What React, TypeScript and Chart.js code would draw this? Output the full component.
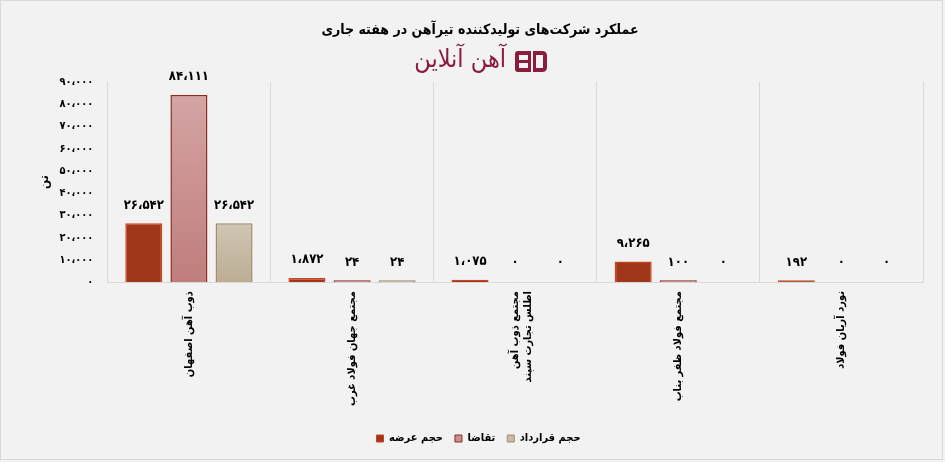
import React, { useEffect, useRef } from "react";
import { Chart, registerables } from "chart.js";

Chart.register(...registerables);

const categories: string[][] = [
  ["ذوب آهن اصفهان"],
  ["مجتمع جهان فولاد غرب"],
  ["مجتمع ذوب آهن", "اطلس تجارت سپند"],
  ["مجتمع فولاد ظفر بناب"],
  ["نورد آریان فولاد"],
];
const supplyValues = [26542, 1872, 1075, 9265, 192];
const demandValues = [84111, 24, 0, 100, 0];
const contractValues = [26542, 24, 0, 0, 0];
const seriesNames = ["حجم عرضه", "تقاضا", "حجم قرارداد"];
const titleText = "عملکرد شرکت‌های تولیدکننده تیرآهن در هفته جاری";
const logoText = "آهن آنلاین";
const yTitle = "تن";

const FONT = "'DejaVu Sans Condensed', 'DejaVu Sans', sans-serif";

const fa = (n: number) =>
  Math.round(n)
    .toLocaleString("en-US")
    .replace(/\d/g, (d) => "۰۱۲۳۴۵۶۷۸۹"[+d])
    .replace(/,/g, "،");

function gradientFill(top: string, bottom: string) {
  return (ctx: any) => {
    if (ctx.raw === 0) return "rgba(0,0,0,0)";
    const chart = ctx.chart;
    const y = chart.scales?.y;
    if (!y || ctx.raw === undefined) return top;
    const y0 = y.getPixelForValue(ctx.raw);
    const y1 = y.getPixelForValue(0);
    if (!isFinite(y0) || !isFinite(y1) || Math.abs(y1 - y0) < 3) return bottom;
    const g = chart.ctx.createLinearGradient(0, y0, 0, y1);
    g.addColorStop(0, top);
    g.addColorStop(1, bottom);
    return g;
  };
}
const solid = (c: string) => (ctx: any) => (ctx.raw === 0 ? "rgba(0,0,0,0)" : c);

const decorPlugin = {
  id: "decor",
  beforeDraw(chart: any) {
    const { ctx, width, height } = chart;
    ctx.save();
    ctx.fillStyle = "#f2f2f2";
    ctx.fillRect(0, 0, width, height);
    ctx.strokeStyle = "#d9d9d9";
    ctx.lineWidth = 1;
    ctx.strokeRect(0.5, 0.5, width - 3, height - 3);
    // title
    ctx.fillStyle = "#000";
    ctx.font = `bold 14px ${FONT}`;
    ctx.textAlign = "center";
    ctx.textBaseline = "middle";
    ctx.direction = "rtl";
    ctx.fillText(titleText, 480, 30);
    // logo text
    ctx.fillStyle = "#8c1c3c";
    ctx.font = `25px ${FONT}`;
    ctx.textAlign = "right";
    ctx.fillText(logoText, 506, 60);
    // logo mark
    const x = 515, yy = 51, h = 21;
    ctx.fillStyle = "#8c1c3c";
    ctx.beginPath();
    ctx.moveTo(x + 3, yy);
    ctx.lineTo(x + 16, yy);
    ctx.lineTo(x + 16, yy + h);
    ctx.lineTo(x + 3, yy + h);
    ctx.quadraticCurveTo(x, yy + h, x, yy + h - 3);
    ctx.lineTo(x, yy + 3);
    ctx.quadraticCurveTo(x, yy, x + 3, yy);
    ctx.fill();
    ctx.beginPath();
    ctx.moveTo(x + 18, yy);
    ctx.lineTo(x + 27, yy);
    ctx.quadraticCurveTo(x + 32, yy, x + 32, yy + 5);
    ctx.lineTo(x + 32, yy + h - 5);
    ctx.quadraticCurveTo(x + 32, yy + h, x + 27, yy + h);
    ctx.lineTo(x + 18, yy + h);
    ctx.fill();
    ctx.fillStyle = "#f2f2f2";
    ctx.fillRect(x + 4, yy + 4, 9, 5);
    ctx.fillRect(x + 4, yy + 12, 9, 5);
    ctx.fillRect(x + 21, yy + 4, 7, 13);
    ctx.restore();
  },
  afterDatasetsDraw(chart: any) {
    const { ctx } = chart;
    const yScale = chart.scales.y;
    ctx.save();
    ctx.fillStyle = "#000";
    ctx.font = `bold 13px ${FONT}`;
    ctx.textAlign = "center";
    ctx.textBaseline = "middle";
    chart.data.datasets.forEach((ds: any, i: number) => {
      const meta = chart.getDatasetMeta(i);
      meta.data.forEach((el: any, j: number) => {
        const v = ds.data[j];
        const top = Math.min(el.y, yScale.getPixelForValue(v));
        ctx.fillText(fa(v), el.x, top - 18);
      });
    });
    ctx.restore();
  },
};

export default function App() {
  const ref = useRef<HTMLCanvasElement>(null);
  useEffect(() => {
    document.body.style.margin = "0";
    const chart = new Chart(ref.current!, {
      type: "bar",
      data: {
        labels: categories,
        datasets: [
          {
            label: seriesNames[0],
            data: supplyValues,
            backgroundColor: solid("#a0361a"),
            borderColor: solid("#c8451e"),
            borderWidth: 1.5,
            minBarLength: 2,
          },
          {
            label: seriesNames[1],
            data: demandValues,
            backgroundColor: gradientFill("#d4a4a4", "#bf7e7c"),
            borderColor: solid("#8e2a1e"),
            borderWidth: 1.5,
            minBarLength: 2,
          },
          {
            label: seriesNames[2],
            data: contractValues,
            backgroundColor: gradientFill("#d0c6b4", "#bcad94"),
            borderColor: solid("#a08c6c"),
            borderWidth: 1.5,
            minBarLength: 2,
          },
        ] as any,
      },
      options: {
        animation: false,
        responsive: false,
        devicePixelRatio: 1,
        categoryPercentage: 0.83,
        barPercentage: 0.82,
        layout: { padding: { top: 82, right: 22, bottom: 8, left: 34 } },
        plugins: {
          legend: {
            position: "bottom",
            labels: {
              boxWidth: 7,
              boxHeight: 7,
              color: "#000",
              font: { family: FONT, size: 11, weight: "bold" },
              padding: 12,
              generateLabels: (chart: any) =>
                chart.data.datasets.map((ds: any, i: number) => ({
                  text: ds.label,
                  fillStyle: ["#a0361a", "#c99090", "#c8bca6"][i],
                  strokeStyle: ["#c8451e", "#8e2a1e", "#a08c6c"][i],
                  lineWidth: 1,
                  hidden: false,
                  datasetIndex: i,
                  fontColor: "#000",
                })),
            },
          },
          tooltip: { enabled: false },
        },
        scales: {
          x: {
            grid: { display: true, offset: true, color: "#d9d9d9", drawTicks: false },
            border: { color: "#d9d9d9" },
            afterFit: (scale: any) => {
              scale.height = scale.height + 6;
            },
            ticks: {
              color: "#000",
              minRotation: 90,
              maxRotation: 90,
              padding: 9,
              font: { family: FONT, size: 11, weight: "bold" },
            },
          },
          y: {
            min: 0,
            max: 90000,
            grid: { display: false, drawTicks: false },
            border: { display: true, color: "#d9d9d9" },
            afterFit: (scale: any) => {
              scale.width = scale.width - 11;
            },
            ticks: {
              stepSize: 10000,
              color: "#000",
              padding: 14,
              font: { family: FONT, size: 11, weight: "bold" },
              callback: (v: any) => fa(Number(v)),
            },
            title: {
              display: true,
              text: yTitle,
              color: "#000",
              font: { family: FONT, size: 12, weight: "bold" },
              padding: 4,
            },
          },
        },
      } as any,
      plugins: [decorPlugin],
    });
    return () => chart.destroy();
  }, []);
  return (
    <div style={{ width: 945, height: 462, position: "relative", background: "#f2f2f2" }}>
      <canvas ref={ref} width={945} height={462} style={{ display: "block" }} />
    </div>
  );
}
